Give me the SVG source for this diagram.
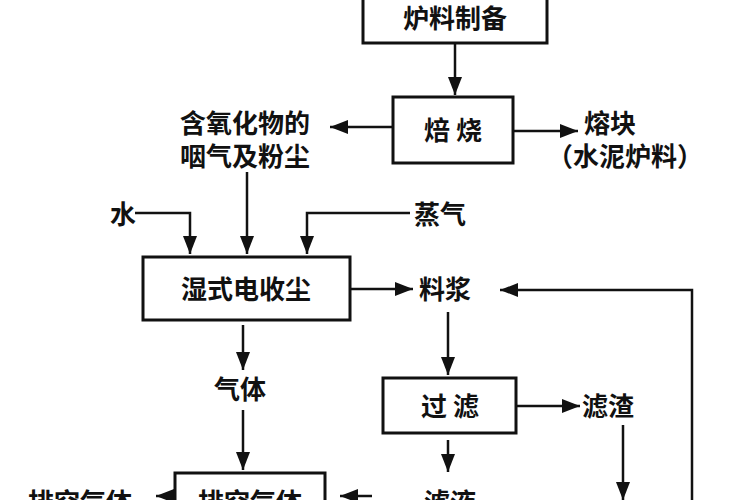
<svg xmlns="http://www.w3.org/2000/svg" width="750" height="500" viewBox="0 0 750 500">
<style>
text{font-family:"Noto Sans CJK SC","Liberation Sans",sans-serif;font-size:26px;font-weight:bold;fill:#111;text-anchor:middle}
.b{fill:#fff;stroke:#111;stroke-width:3}
.c{fill:none;stroke:#111;stroke-width:2.5}
</style>
<defs><marker id="m" viewBox="0 0 18 14" refX="18" refY="7" markerWidth="18" markerHeight="14" markerUnits="userSpaceOnUse" orient="auto"><path d="M0,0L18,7L0,14z" fill="#111"/></marker></defs>
<rect width="750" height="500" fill="#fff"/>
<g id="connectors" marker-end="url(#m)">
<path class="c" d="M455,43V95"/>
<path class="c" d="M393,127H330"/>
<path class="c" d="M513,131H578"/>
<path class="c" d="M247,172V254"/>
<path class="c" d="M135,213H190V254"/>
<path class="c" d="M410,213H307V254"/>
<path class="c" d="M350,289H413"/>
<path class="c" d="M692,500V290H500"/>
<path class="c" d="M448,312V375"/>
<path class="c" d="M516,406H580"/>
<path class="c" d="M623,425V500"/>
<path class="c" d="M243,325V370"/>
<path class="c" d="M243,410V470"/>
<path class="c" d="M448,440V472"/>
<path class="c" d="M175,496H156"/>
<path class="c" d="M372,496H340"/>
</g>
<g id="n1"><rect class="b" x="363" y="-5" width="184" height="48"/><text x="455" y="28">炉料制备</text></g>
<g id="n2"><rect class="b" x="393" y="97" width="120" height="66"/><text x="453" y="140">焙 烧</text></g>
<g id="n3"><text x="245" y="133">含氧化物的</text><text x="245" y="166">咽气及粉尘</text></g>
<g id="n4"><text x="610" y="133">熔块</text><text x="625" y="166">（水泥炉料）</text></g>
<g id="n5"><text x="123" y="224">水</text></g>
<g id="n6"><text x="440" y="224">蒸气</text></g>
<g id="n7"><rect class="b" x="143" y="257" width="207" height="63"/><text x="246" y="299">湿式电收尘</text></g>
<g id="n8"><text x="445" y="299">料浆</text></g>
<g id="n9"><rect class="b" x="383" y="378" width="133" height="55"/><text x="450" y="416">过 滤</text></g>
<g id="n10"><text x="608" y="416">滤渣</text></g>
<g id="n11"><text x="240" y="399">气体</text></g>
<g id="n12"><rect class="b" x="175" y="473" width="150" height="40"/><text x="250" y="512">排空气体</text></g>
<g id="n13"><text x="80" y="512">排空气体</text></g>
<g id="n14"><text x="450" y="512">滤液</text></g>
</svg>
